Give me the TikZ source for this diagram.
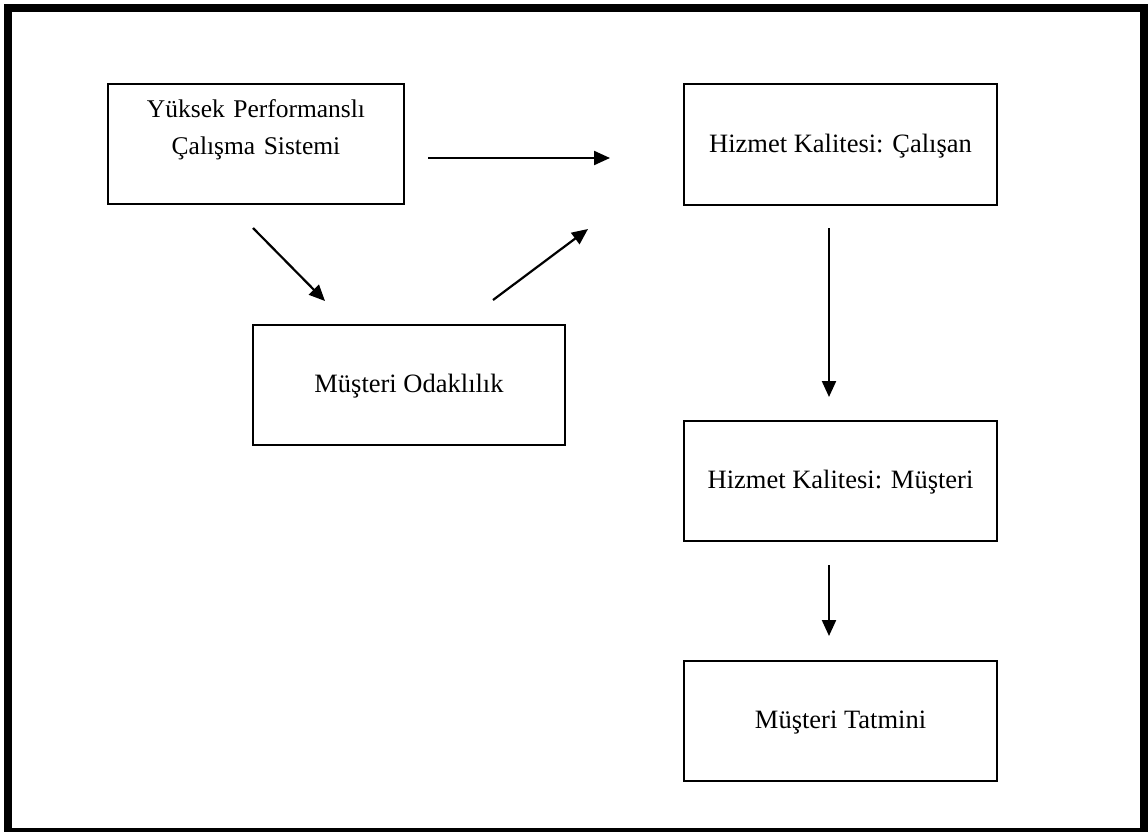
\documentclass[tikz,border=0pt]{standalone}
\usepackage{fontspec}
\setmainfont{Liberation Serif}
\usetikzlibrary{arrows.meta}
\tikzset{
  box/.style={draw, line width=2pt, rectangle, inner sep=0pt, minimum width=#1, minimum height=120pt,
    text height=18pt, text depth=3pt, font=\fontsize{26.5}{36}\selectfont},
  box/.default=313pt,
  lbl/.style={font=\fontsize{25.5}{36.5}\selectfont, align=center, inner sep=0pt},
  conn/.style={line width=2.2pt, -{Triangle[length=16pt,width=14pt]}},
  frame/.style={line width=8pt}
}
\begin{document}
\begin{tikzpicture}[x=1pt,y=-1pt]
\useasboundingbox (0,0) rectangle (1148,832);
\draw[frame] (8,8) rectangle (1144,832);
% boxes
\node[box=296pt] (b1) at (256,144) {};
\node[lbl, text width=296pt, anchor=base] (b1t) at (256,118) {Yüksek Performanslı\\Çalışma Sistemi};
\node[box=313pt] (b2) at (840.5,144.5) {Hizmet Kalitesi: Çalışan};
\node[box=312pt] (b3) at (409,385) {Müşteri Odaklılık};
\node[box=313pt] (b4) at (840.5,481) {Hizmet Kalitesi: Müşteri};
\node[box=313pt] (b5) at (840.5,721) {Müşteri Tatmini};
% arrow ends
\coordinate (a1s) at (428,158);
\coordinate (a1e) at (610,158);
\coordinate (a2s) at (253,228);
\coordinate (a2e) at (325,301);
\coordinate (a3s) at (493,300);
\coordinate (a3e) at (588,229);
\coordinate (a4s) at (829,228);
\coordinate (a4e) at (829,397);
\coordinate (a5s) at (829,565);
\coordinate (a5e) at (829,636);
\draw[conn] (a1s) -- (a1e);
\draw[conn] (a2s) -- (a2e);
\draw[conn] (a3s) -- (a3e);
\draw[conn] (a4s) -- (a4e);
\draw[conn] (a5s) -- (a5e);
\end{tikzpicture}
\end{document}
